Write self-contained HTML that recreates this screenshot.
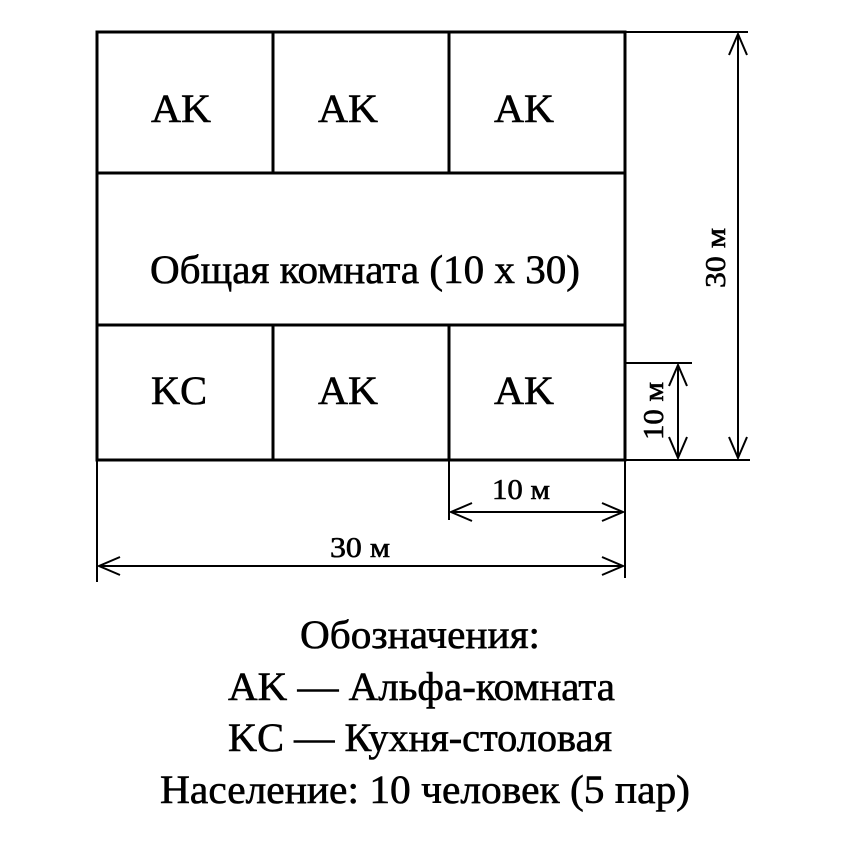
<!DOCTYPE html>
<html><head><meta charset="utf-8"><style>
html,body{margin:0;padding:0;background:#fff;}
svg{display:block;}
text{font-family:"Liberation Serif",serif;fill:#000;stroke:#000;stroke-width:0.6;}
</style></head><body>
<svg width="846" height="850" viewBox="0 0 846 850" xmlns="http://www.w3.org/2000/svg">
<g stroke="#000" stroke-width="3" fill="none">
<rect x="97" y="32" width="528" height="428"/>
<line x1="97" y1="173" x2="625" y2="173"/>
<line x1="97" y1="325" x2="625" y2="325"/>
<line x1="273" y1="32" x2="273" y2="173"/>
<line x1="449" y1="32" x2="449" y2="173"/>
<line x1="273" y1="325" x2="273" y2="460"/>
<line x1="449" y1="325" x2="449" y2="460"/>
</g>
<g stroke="#000" stroke-width="2" fill="none">
<line x1="625" y1="32" x2="748" y2="32"/>
<line x1="625" y1="460" x2="750" y2="460"/>
<line x1="625" y1="363" x2="692" y2="363"/>
<line x1="738" y1="34" x2="738" y2="458"/>
<line x1="678" y1="365" x2="678" y2="458"/>
<polyline points="729,55 738,34 747,55"/>
<polyline points="729,437 738,458 747,437"/>
<polyline points="669,386 678,365 687,386"/>
<polyline points="669,437 678,458 687,437"/>
<line x1="97" y1="460" x2="97" y2="582"/>
<line x1="625" y1="460" x2="625" y2="578"/>
<line x1="449" y1="460" x2="449" y2="520"/>
<line x1="451" y1="512" x2="623" y2="512"/>
<polyline points="472,503 451,512 472,521"/>
<polyline points="602,503 623,512 602,521"/>
<line x1="99" y1="566" x2="623" y2="566"/>
<polyline points="120,557 99,566 120,575"/>
<polyline points="602,557 623,566 602,575"/>
</g>
<g font-size="40">
<text x="151" y="122" textLength="60" lengthAdjust="spacingAndGlyphs">AK</text>
<text x="318" y="122" textLength="60" lengthAdjust="spacingAndGlyphs">AK</text>
<text x="494" y="122" textLength="60" lengthAdjust="spacingAndGlyphs">AK</text>
<text x="150" y="283" textLength="430" lengthAdjust="spacingAndGlyphs">Общая комната (10 x 30)</text>
<text x="151" y="404" textLength="56" lengthAdjust="spacingAndGlyphs">KC</text>
<text x="318" y="404" textLength="60" lengthAdjust="spacingAndGlyphs">AK</text>
<text x="494" y="404" textLength="60" lengthAdjust="spacingAndGlyphs">AK</text>
</g>
<g font-size="29">
<text x="492" y="499" textLength="58" lengthAdjust="spacingAndGlyphs">10 м</text>
<text x="330" y="557" textLength="60" lengthAdjust="spacingAndGlyphs">30 м</text>
<text transform="translate(725,288) rotate(-90)" textLength="60" lengthAdjust="spacingAndGlyphs">30 м</text>
<text transform="translate(663,440) rotate(-90)" textLength="58" lengthAdjust="spacingAndGlyphs">10 м</text>
</g>
<g font-size="40">
<text x="300" y="648" textLength="240" lengthAdjust="spacingAndGlyphs">Обозначения:</text>
<text x="228" y="700" textLength="387" lengthAdjust="spacingAndGlyphs">AK — Альфа-комната</text>
<text x="228" y="751" textLength="384" lengthAdjust="spacingAndGlyphs">KC — Кухня-столовая</text>
<text x="160" y="803" textLength="530" lengthAdjust="spacingAndGlyphs">Население: 10 человек (5 пар)</text>
</g>
</svg>
</body></html>
